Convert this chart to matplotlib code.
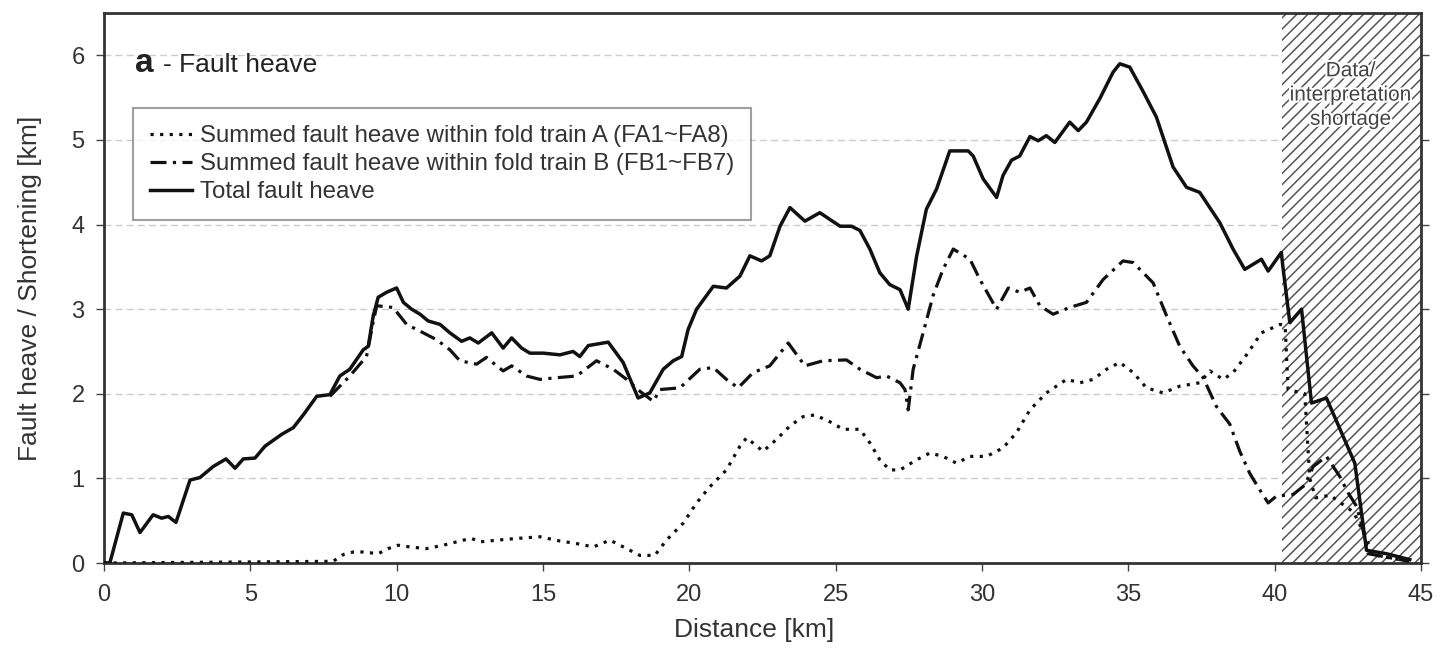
import matplotlib
matplotlib.use("Agg")
import matplotlib.pyplot as plt
import matplotlib.patheffects as pe

plt.rcParams['font.family'] = ['Liberation Sans', 'DejaVu Sans']
plt.rcParams['hatch.linewidth'] = 1.1

# distance [km], heave [km]
total_pts = [(0, 0), (0.2, 0), (0.66, 0.59), (0.95, 0.57), (1.23, 0.36), (1.68, 0.57), (1.97, 0.53),
             (2.2, 0.55), (2.46, 0.48), (2.94, 0.98), (3.28, 1.01), (3.73, 1.14), (4.17, 1.23),
             (4.48, 1.12), (4.76, 1.23), (5.16, 1.24), (5.5, 1.38), (6.07, 1.52), (6.47, 1.6),
             (6.81, 1.75), (7.27, 1.97), (7.72, 1.99), (8.06, 2.21), (8.4, 2.29), (8.86, 2.52),
             (9.03, 2.56), (9.2, 2.92), (9.37, 3.14), (9.66, 3.2), (10.0, 3.25), (10.23, 3.08),
             (10.51, 3.0), (10.8, 2.94), (11.08, 2.86), (11.48, 2.82), (11.82, 2.72), (12.22, 2.62),
             (12.5, 2.66), (12.79, 2.6), (13.25, 2.72), (13.64, 2.54), (13.93, 2.66), (14.27, 2.54),
             (14.55, 2.48), (15.01, 2.48), (15.58, 2.46), (16.03, 2.5), (16.26, 2.44), (16.55, 2.57),
             (17.23, 2.61), (17.74, 2.37), (18.25, 1.95), (18.65, 2.01), (19.11, 2.29), (19.45, 2.39),
             (19.74, 2.44), (19.96, 2.76), (20.25, 3.0), (20.82, 3.27), (21.27, 3.25), (21.73, 3.39),
             (22.07, 3.63), (22.47, 3.57), (22.75, 3.63), (23.1, 3.98), (23.44, 4.2), (23.95, 4.04),
             (24.46, 4.14), (25.15, 3.98), (25.54, 3.98), (25.83, 3.93), (26.17, 3.71), (26.51, 3.43),
             (26.85, 3.29), (27.2, 3.23), (27.48, 3.0), (27.77, 3.63), (28.1, 4.18), (28.45, 4.42),
             (28.9, 4.87), (29.13, 4.87), (29.53, 4.87), (29.7, 4.81), (30.04, 4.54), (30.5, 4.32),
             (30.72, 4.58), (31.01, 4.76), (31.29, 4.81), (31.64, 5.04), (31.92, 4.99), (32.2, 5.05),
             (32.49, 4.97), (33.0, 5.21), (33.29, 5.11), (33.57, 5.21), (34.03, 5.49), (34.48, 5.8),
             (34.71, 5.9), (35.05, 5.86), (35.51, 5.57), (35.96, 5.27), (36.53, 4.68), (36.99, 4.44),
             (37.44, 4.38), (38.13, 4.02), (38.58, 3.71), (38.98, 3.47), (39.55, 3.59), (39.78, 3.45),
             (40.23, 3.67), (40.28, 3.51), (40.52, 2.84), (40.92, 3.0), (41.26, 1.89), (41.77, 1.95),
             (42.74, 1.18), (43.14, 0.15), (43.82, 0.11), (44.62, 0.04)]

train_b_pts = [(7.72, 1.97), (8.4, 2.21), (8.97, 2.44), (9.2, 2.85), (9.32, 3.04), (9.88, 3.02),
               (10.34, 2.82), (10.91, 2.72), (11.36, 2.64), (11.82, 2.52), (12.16, 2.39), (12.73, 2.35),
               (13.07, 2.43), (13.42, 2.33), (13.64, 2.27), (13.93, 2.33), (14.44, 2.21), (14.9, 2.17),
               (15.47, 2.19), (16.15, 2.21), (16.83, 2.39), (17.4, 2.29), (17.86, 2.17), (18.31, 2.03),
               (18.77, 1.91), (19.0, 2.05), (19.68, 2.07), (20.36, 2.29), (20.82, 2.31), (21.27, 2.17),
               (21.67, 2.07), (22.18, 2.25), (22.75, 2.33), (23.38, 2.6), (23.95, 2.33), (24.57, 2.39),
               (25.37, 2.4), (25.83, 2.29), (26.4, 2.19), (26.74, 2.21), (27.2, 2.13), (27.37, 2.05),
               (27.48, 1.81), (27.65, 2.29), (27.99, 2.72), (28.33, 3.16), (28.67, 3.47), (29.02, 3.71),
               (29.59, 3.59), (29.93, 3.35), (30.5, 3.0), (30.9, 3.25), (31.29, 3.2), (31.64, 3.25),
               (31.98, 3.04), (32.43, 2.94), (33.0, 3.02), (33.57, 3.08), (34.14, 3.35), (34.82, 3.57),
               (35.17, 3.55), (35.85, 3.31), (36.31, 2.92), (36.76, 2.56), (37.21, 2.33), (37.56, 2.19),
               (38.01, 1.85), (38.47, 1.64), (38.81, 1.32), (39.15, 1.06), (39.5, 0.86), (39.78, 0.71),
               (40.06, 0.79), (40.63, 0.81), (41.03, 0.92), (41.32, 1.14), (41.77, 1.26), (42.23, 1.02),
               (42.51, 0.83), (42.8, 0.67), (43.02, 0.39), (43.2, 0.11), (44.6, 0.02)]

train_a_pts = [(0, 0), (7.83, 0.02), (8.18, 0.1), (8.52, 0.13), (8.86, 0.13), (9.37, 0.11), (9.71, 0.17),
               (10.05, 0.21), (10.45, 0.19), (11.02, 0.17), (11.59, 0.21), (12.28, 0.27), (12.56, 0.29),
               (12.85, 0.25), (13.42, 0.27), (14.1, 0.29), (14.9, 0.31), (15.58, 0.26), (16.15, 0.23),
               (16.72, 0.19), (17.29, 0.27), (17.86, 0.17), (18.31, 0.09), (18.82, 0.09), (19.22, 0.27),
               (19.79, 0.47), (20.25, 0.71), (20.7, 0.9), (21.27, 1.1), (21.73, 1.38), (21.96, 1.48),
               (22.52, 1.32), (22.98, 1.46), (23.44, 1.62), (23.89, 1.73), (24.29, 1.75), (24.8, 1.67),
               (25.26, 1.58), (25.83, 1.58), (26.17, 1.42), (26.51, 1.22), (26.85, 1.1), (27.2, 1.1),
               (27.77, 1.22), (28.22, 1.3), (28.67, 1.26), (29.13, 1.18), (29.59, 1.26), (30.16, 1.26),
               (30.72, 1.36), (31.18, 1.54), (31.64, 1.81), (32.2, 2.01), (32.89, 2.17), (33.35, 2.13),
               (33.8, 2.17), (34.26, 2.29), (34.71, 2.37), (35.17, 2.25), (35.62, 2.07), (36.19, 2.01),
               (36.76, 2.09), (37.44, 2.13), (37.79, 2.27), (38.24, 2.17), (38.58, 2.25), (39.04, 2.46),
               (39.55, 2.72), (40.19, 2.82), (40.36, 2.8), (40.46, 2.05), (41.03, 2.0), (41.2, 1.0),
               (41.4, 0.77), (41.9, 0.8), (42.7, 0.6), (43.15, 0.28), (43.3, 0.1), (44.6, 0.02)]

labels = ['Summed fault heave within fold train A (FA1~FA8)',
          'Summed fault heave within fold train B (FB1~FB7)',
          'Total fault heave']
shortage_start = 40.25

fig = plt.figure(figsize=(14.42, 6.49), dpi=100)
ax = fig.add_axes([0.0721, 0.1325, 0.9133, 0.8475])

# hatched part with missing data
ax.axvspan(shortage_start, 45, facecolor='white', edgecolor='#555555', hatch='///', lw=0, zorder=1)
ax.text(42.6, 5.53, 'Data/\ninterpretation\nshortage', ha='center', va='center', fontsize=15,
        color='#444444', linespacing=1.35, zorder=2,
        path_effects=[pe.withStroke(linewidth=3, foreground='white')])

ax.grid(axis='y', color='#cccccc', linestyle=(0, (5, 3)), linewidth=1.0, zorder=0)
ax.set_axisbelow(True)

ax.plot(*zip(*train_a_pts), color='#111111', lw=2.3, linestyle=(0, (1, 2)), label=labels[0], zorder=3)
ax.plot(*zip(*train_b_pts), color='#111111', lw=2.3, linestyle=(0, (5, 2, 1, 2)), label=labels[1], zorder=3)
ax.plot(*zip(*total_pts), color='#111111', lw=2.5, label=labels[2], zorder=4)

ax.set_xlim(0, 45)
ax.set_ylim(0, 6.5)
ax.set_xticks(range(0, 46, 5))
ax.set_yticks(range(0, 7))
ax.tick_params(direction='out', length=6, width=1, colors='#444444', labelsize=17, right=True)
ax.tick_params(axis='y', pad=8)
ax.tick_params(axis='x', pad=9)
for lab in ax.get_xticklabels() + ax.get_yticklabels():
    lab.set_color('#333333')
for s in ax.spines.values():
    s.set_color('#333333')
    s.set_linewidth(2)

ax.set_xlabel('Distance [km]', fontsize=19, color='#333333')
ax.set_ylabel('Fault heave / Shortening [km]', fontsize=19, color='#333333')
ax.xaxis.set_label_coords(0.494, -0.1)
ax.yaxis.set_label_coords(-0.047, 0.5)

ax.text(0.0235, 0.893, 'a', transform=ax.transAxes, fontsize=24, fontweight='bold', color='#222222')
ax.text(0.0448, 0.893, '- Fault heave', transform=ax.transAxes, fontsize=19, color='#222222')

leg = ax.legend(loc='upper left', bbox_to_anchor=(0.022, 0.827), borderaxespad=0, fontsize=17.3,
                frameon=True, fancybox=False, edgecolor='#888888', handlelength=1.75,
                handletextpad=0.35, labelspacing=0.25, borderpad=0.7)
leg.get_frame().set_linewidth(1.5)
for t in leg.get_texts():
    t.set_color('#333333')

fig.savefig('out.png', dpi=100)
